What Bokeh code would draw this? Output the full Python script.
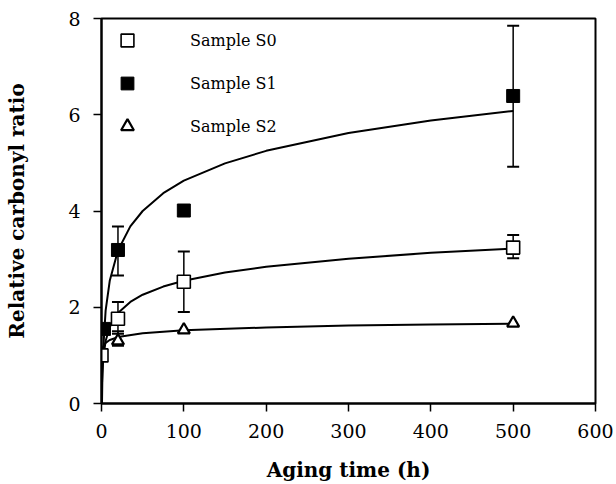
from bokeh.plotting import figure
from bokeh.models import (ColumnDataSource, Whisker, TeeHead, Range1d, FixedTicker,
                          Legend, LegendItem)
from bokeh.embed import file_html
from bokeh.resources import INLINE

# ---- data ----
s0_t = [0, 20, 100, 500]
s0_y = [1.00, 1.76, 2.53, 3.24]
s0_lo = [1.00, 1.45, 1.90, 3.02]
s0_hi = [1.00, 2.11, 3.16, 3.50]

s1_t = [3, 20, 100, 500]
s1_y = [1.55, 3.19, 4.01, 6.39]
s1_lo = [1.55, 2.66, 4.01, 4.92]
s1_hi = [1.55, 3.68, 4.01, 7.85]

s2_t = [20, 100, 500]
s2_y = [1.30, 1.53, 1.67]
s2_lo = [1.20, 1.53, 1.67]
s2_hi = [1.50, 1.53, 1.67]

# fitted curves
c1_t = [0.59, 1, 2, 5, 10, 20, 35, 50, 75, 100, 150, 200, 300, 400, 500]
c1_y = [0.0, 0.48, 1.10, 1.93, 2.55, 3.18, 3.68, 4.00, 4.37, 4.63, 4.99, 5.25, 5.62, 5.88, 6.08]
c0_t = [0.22, 0.5, 1, 2, 5, 10, 20, 35, 50, 75, 100, 150, 200, 300, 400, 500]
c0_y = [0.0, 0.35, 0.63, 0.92, 1.30, 1.59, 1.88, 2.11, 2.26, 2.43, 2.55, 2.72, 2.84, 3.01, 3.13, 3.22]
c2_t = [0, 0.001, 0.1, 1, 2, 5, 10, 20, 50, 100, 200, 300, 400, 500]
c2_y = [0.0, 0.52, 0.92, 1.12, 1.18, 1.26, 1.32, 1.38, 1.46, 1.52, 1.58, 1.62, 1.64, 1.66]

x_ticks = [0, 100, 200, 300, 400, 500, 600]
y_ticks = [0, 2, 4, 6, 8]
labels = ["Sample S0", "Sample S1", "Sample S2"]

FONT = "DejaVu Serif"

p = figure(width=616, height=484, output_backend="svg", toolbar_location=None,
           x_range=Range1d(0, 600), y_range=Range1d(0, 8),
           min_border_left=101, min_border_right=21, min_border_top=18, min_border_bottom=78)
p.background_fill_color = "white"
p.border_fill_color = "white"
p.outline_line_color = "black"
p.outline_line_width = 2
p.xgrid.visible = False
p.ygrid.visible = False

for ax in (p.xaxis[0], p.yaxis[0]):
    ax.axis_line_width = 2
    ax.axis_line_color = "black"
    ax.major_tick_line_width = 1.5
    ax.major_tick_line_color = "black"
    ax.major_tick_out = 8
    ax.major_tick_in = 0
    ax.minor_tick_out = 0
    ax.minor_tick_in = 0
    ax.major_label_text_font = FONT
    ax.major_label_text_font_size = "19px"
    ax.major_label_text_color = "black"
    ax.axis_label_text_font = FONT
    ax.axis_label_text_font_style = "bold"
    ax.axis_label_text_font_size = "20px"
    ax.axis_label_text_color = "black"

p.xaxis.ticker = FixedTicker(ticks=x_ticks)
p.yaxis.ticker = FixedTicker(ticks=y_ticks)
p.xaxis.axis_label = "Aging time (h)"
p.yaxis.axis_label = "Relative carbonyl ratio"
p.xaxis.major_label_standoff = 12
p.yaxis.major_label_standoff = 13
p.xaxis.axis_label_standoff = 17
p.yaxis.axis_label_standoff = 36

# curves
for ct, cy in ((c0_t, c0_y), (c1_t, c1_y), (c2_t, c2_y)):
    p.line(ct, cy, line_color="black", line_width=2)

# error bars
def add_err(t, lo, hi):
    tt, ll, hh = [], [], []
    for a, b, c in zip(t, lo, hi):
        if c - b > 0.01:
            tt.append(a); ll.append(b); hh.append(c)
    src = ColumnDataSource(dict(base=tt, lower=ll, upper=hh))
    w = Whisker(source=src, base="base", lower="lower", upper="upper",
                line_color="black", line_width=1.5,
                upper_head=TeeHead(size=12, line_width=2, line_color="black"),
                lower_head=TeeHead(size=12, line_width=2, line_color="black"))
    p.add_layout(w)

add_err(s0_t, s0_lo, s0_hi)
add_err(s1_t, s1_lo, s1_hi)
add_err(s2_t, s2_lo, s2_hi)

r0 = p.scatter(s0_t, s0_y, marker="square", size=13, fill_color="white",
               line_color="black", line_width=1.6)
r1 = p.scatter(s1_t, s1_y, marker="square", size=13, fill_color="black",
               line_color="black", line_width=1)
r2 = p.scatter(s2_t, s2_y, marker="triangle", size=12, fill_color="white",
               line_color="black", line_width=2.2)

legend = Legend(items=[LegendItem(label=labels[0], renderers=[r0]),
                       LegendItem(label=labels[1], renderers=[r1]),
                       LegendItem(label=labels[2], renderers=[r2])],
                location="top_left", margin=6, padding=11,
                glyph_width=40, glyph_height=32, label_height=32,
                label_standoff=43, spacing=11,
                border_line_color=None, background_fill_alpha=0,
                label_text_font=FONT, label_text_font_size="16px",
                label_text_color="black")
p.add_layout(legend, "center")

open("out.html", "w").write(file_html(p, INLINE))
